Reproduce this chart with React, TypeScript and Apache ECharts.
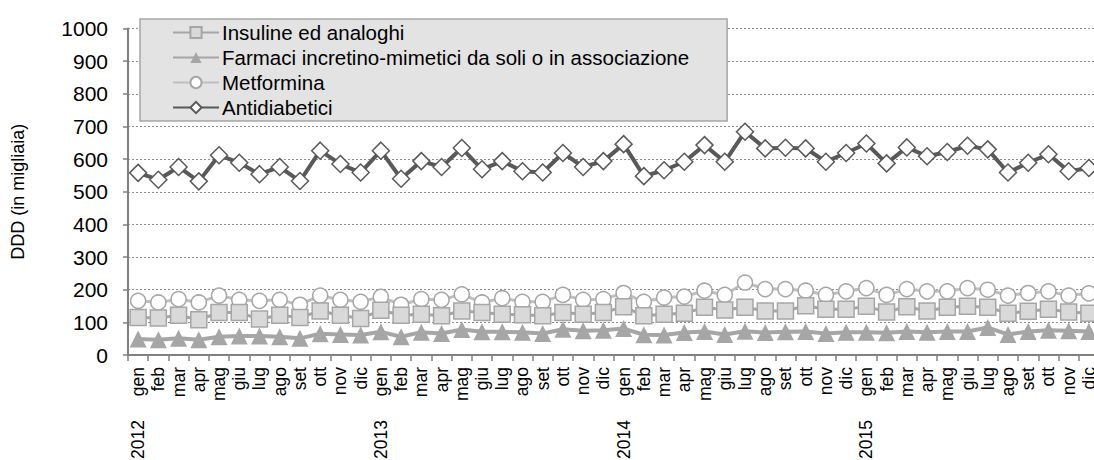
import React, { useEffect, useRef } from "react";
import * as echarts from "echarts";

const years = ["2012", "2013", "2014", "2015"];
const months = ["gen", "feb", "mar", "apr", "mag", "giu", "lug", "ago", "set", "ott", "nov", "dic"];
const yTicks = { min: 0, max: 1000, interval: 100 };

const insuline = [115, 113, 122, 108, 130, 130, 110, 122, 115, 135, 122, 112, 137, 122, 125, 120, 135, 130, 125, 123, 120, 130, 125, 130, 148, 120, 125, 128, 146, 138, 146, 135, 135, 151, 140, 140, 149, 132, 148, 135, 146, 149, 146, 128, 134, 140, 132, 128];
const farmaci = [49, 47, 51, 47, 56, 58, 58, 56, 51, 65, 63, 61, 71, 56, 70, 66, 78, 71, 71, 70, 66, 79, 74, 76, 81, 62, 61, 69, 72, 63, 73, 69, 71, 72, 66, 70, 70, 68, 72, 70, 72, 72, 84, 63, 72, 76, 74, 72];
const metformina = [166, 161, 171, 161, 182, 169, 166, 169, 154, 182, 169, 163, 178, 154, 171, 169, 186, 161, 174, 163, 163, 184, 169, 171, 190, 163, 176, 179, 197, 184, 222, 202, 202, 197, 184, 195, 205, 184, 202, 195, 195, 205, 200, 182, 190, 195, 182, 189];
const antidiabetici = [558, 537, 576, 532, 612, 589, 554, 576, 533, 626, 585, 559, 626, 540, 594, 576, 634, 569, 594, 563, 559, 619, 576, 594, 646, 548, 566, 592, 643, 592, 684, 633, 635, 633, 592, 619, 648, 587, 636, 609, 622, 641, 630, 559, 589, 615, 563, 573];

const names = [
  "Insuline ed analoghi",
  "Farmaci incretino-mimetici da soli o in associazione",
  "Metformina",
  "Antidiabetici",
];

const monthCats: string[] = [];
const yearCats: string[] = [];
years.forEach((y) =>
  months.forEach((m, i) => {
    monthCats.push(m);
    yearCats.push(i === 0 ? y : "");
  })
);

const FONT = "'Liberation Sans', Arial, sans-serif";

export default function App() {
  const ref = useRef<HTMLDivElement>(null);
  useEffect(() => {
    if (!ref.current) return;
    const chart = echarts.init(ref.current, null, { renderer: "svg" });
    chart.setOption({
      animation: false,
      backgroundColor: "#ffffff",
      textStyle: { fontFamily: FONT },
      grid: {
        left: 128,
        right: -5,
        top: 28.6,
        bottom: 105,
        containLabel: false,
        outerBoundsMode: "none",
      },
      legend: {
        data: names,
        orient: "vertical",
        left: 140,
        top: 19,
        padding: [3, 38, 3, 32],
        itemGap: 4,
        itemWidth: 46,
        itemHeight: 14,
        backgroundColor: "#e3e3e3",
        borderColor: "#a6a6a6",
        borderWidth: 1.5,
        borderRadius: 0,
        textStyle: { fontFamily: FONT, fontSize: 20.5, color: "#000", lineHeight: 20, padding: [0, 0, 0, -2] },
      },
      xAxis: [
        {
          type: "category",
          data: monthCats,
          boundaryGap: true,
          axisLine: { lineStyle: { color: "#808080", width: 2 } },
          axisTick: { show: true, length: 6, lineStyle: { color: "#808080", width: 1.5 } },
          axisLabel: { interval: 0, rotate: 90, margin: 12, fontSize: 17.5, color: "#000", fontFamily: FONT },
          splitLine: { show: false },
        },
        {
          type: "category",
          data: yearCats,
          position: "bottom",
          boundaryGap: true,
          axisLine: { show: false },
          axisTick: { show: false },
          axisLabel: { interval: 0, rotate: 90, margin: 65, fontSize: 17.5, color: "#000", fontFamily: FONT },
          splitLine: { show: false },
        },
      ],
      yAxis: {
        type: "value",
        min: yTicks.min,
        max: yTicks.max,
        interval: yTicks.interval,
        name: "DDD (in migliaia)",
        nameLocation: "middle",
        nameGap: 101,
        nameRotate: 90,
        nameTextStyle: { fontSize: 18, color: "#000", fontFamily: FONT },
        axisLine: { show: true, lineStyle: { color: "#808080", width: 2 } },
        axisTick: { show: true, length: 5, lineStyle: { color: "#808080", width: 1.5 } },
        axisLabel: {
          margin: 20,
          fontSize: 21,
          color: "#000",
          fontFamily: FONT,
          formatter: (v: number) => String(v),
        },
        splitLine: { show: true, lineStyle: { color: "#8c8c8c", width: 1.2, type: [2, 2] } },
      },
      series: [
        {
          name: names[2],
          type: "line",
          data: metformina,
          symbol: "circle",
          symbolSize: 15,
          showAllSymbol: true,
          lineStyle: { color: "#bfbfbf", width: 3 },
          itemStyle: { color: "#ffffff", borderColor: "#a6a6a6", borderWidth: 1.5 },
        },
        {
          name: names[1],
          type: "line",
          data: farmaci,
          symbol: "triangle",
          symbolSize: 17,
          showAllSymbol: true,
          lineStyle: { color: "#a6a6a6", width: 4 },
          itemStyle: { color: "#a6a6a6", borderColor: "#a6a6a6", borderWidth: 0 },
        },
        {
          name: names[0],
          type: "line",
          data: insuline,
          symbol: "rect",
          symbolSize: 16,
          showAllSymbol: true,
          lineStyle: { color: "#a6a6a6", width: 3 },
          itemStyle: { color: "#d9d9d9", borderColor: "#a6a6a6", borderWidth: 1.5 },
        },
        {
          name: names[3],
          type: "line",
          data: antidiabetici,
          symbol: "diamond",
          symbolSize: 17,
          showAllSymbol: true,
          lineStyle: { color: "#595959", width: 4 },
          itemStyle: { color: "#ffffff", borderColor: "#595959", borderWidth: 1.5 },
        },
      ],
    });
    return () => chart.dispose();
  }, []);
  return (
    <div
      ref={ref}
      style={{ position: "fixed", left: 0, top: 0, width: 1094, height: 460, background: "#fff" }}
    />
  );
}
